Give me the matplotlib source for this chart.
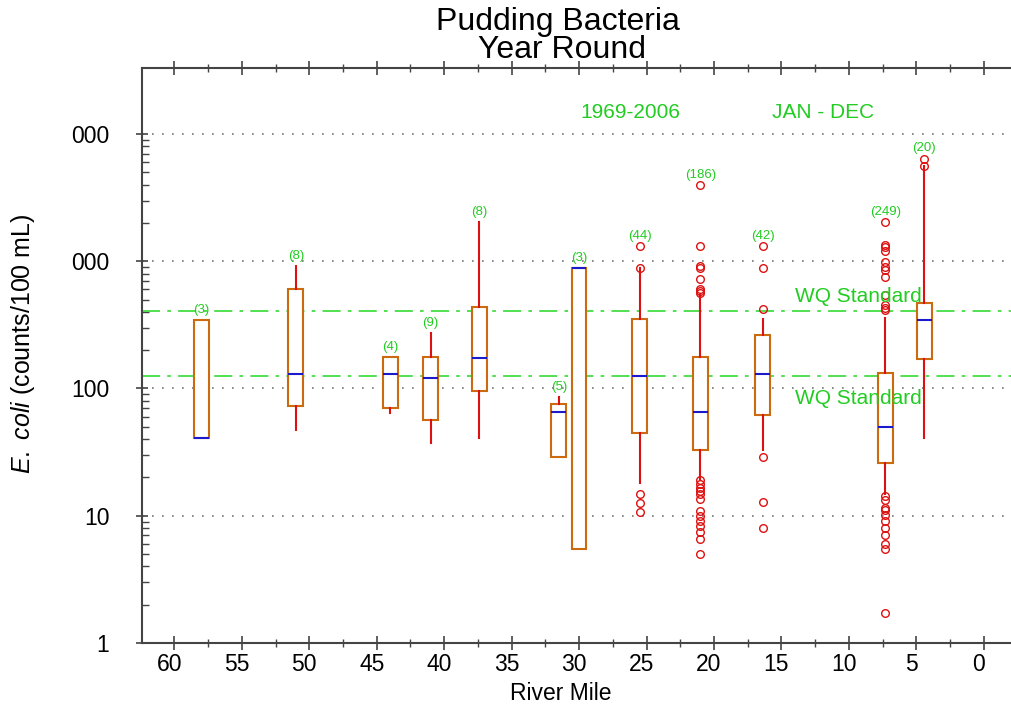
import matplotlib
matplotlib.use("Agg")
import matplotlib.pyplot as plt
import matplotlib.transforms as mtransforms
from matplotlib.ticker import FixedLocator, MultipleLocator, NullFormatter

plt.rcParams['font.family'] = ['Liberation Sans', 'DejaVu Sans']
plt.rcParams['mathtext.fontset'] = 'custom'
plt.rcParams['mathtext.it'] = 'Liberation Sans:italic'
plt.rcParams['mathtext.rm'] = 'Liberation Sans'

# river mile of each site, and sample counts
miles = [58.0, 51.0, 44.0, 41.0, 37.4, 31.5, 30.0, 25.5, 21.0, 16.4, 7.3, 4.4]
counts = [3, 8, 4, 9, 8, 5, 3, 44, 186, 42, 249, 20]

# box statistics (E. coli counts/100 mL)
q1 = [41, 73, 70, 57, 96, 29, 5.5, 45, 33, 62, 26, 170]
med = [41, 129, 131, 121, 173, 65, 890, 126, 65, 130, 50, 346]
q3 = [345, 607, 177, 177, 435, 75, 890, 352, 177, 264, 133, 468]
whislo = [41, 47, 64, 37, 41, 29, 5.5, 18, 19.5, 32.6, 14.7, 41]
whishi = [345, 922, 177, 272, 2020, 85, 890, 886, 543, 352, 357, 5600]
fliers = [
    [], [], [], [], [], [], [],
    [1318, 886, 14.9, 12.7, 10.7],
    [3970, 1318, 910, 886, 726, 609, 585, 561,
     19.0, 17.8, 16.5, 15.7, 14.7, 13.5, 10.9, 9.9, 9.1, 8.3, 7.5, 6.6, 5.0],
    [1318, 886, 420, 28.7, 12.8, 8.07],
    [2031, 1343, 1290, 1212, 994, 907, 855, 757, 543, 454, 428, 415,
     14.2, 13.4, 11.5, 11.0, 10.2, 9.05, 8.02, 7.02, 6.04, 5.49, 1.71],
    [6400, 5600],
]

wq_standards = [406, 126]
ytick_vals = [1, 10, 100, 1000, 10000]
ytick_labels = ['1', '10', '100', '000', '000']
green = '#22cc22'

fig = plt.figure(figsize=(10.11, 7.09), dpi=100)
W, H = 1011, 709
ax = fig.add_axes([142 / W, (H - 643) / H, (W - 142) / W, (643 - 68) / H])

stats = []
for i in range(len(miles)):
    stats.append(dict(med=med[i], q1=q1[i], q3=q3[i], whislo=whislo[i],
                      whishi=whishi[i], fliers=fliers[i]))

ax.bxp(stats, positions=miles, widths=1.1, showcaps=False, patch_artist=True,
       boxprops=dict(facecolor='white', edgecolor='#cc6a10', linewidth=1.5),
       whiskerprops=dict(color='#dd1111', linewidth=1.5),
       medianprops=dict(color='#1a1acc', linewidth=1.5),
       flierprops=dict(marker='o', markerfacecolor='none', markeredgecolor='#dd1111',
                       markersize=5.5, markeredgewidth=1.0),
       zorder=3, manage_ticks=False)

# sample counts above each site
for i in range(len(miles)):
    top = max([whishi[i], q3[i]] + fliers[i])
    ax.annotate('(%d)' % counts[i], (miles[i], top), xytext=(0, 3),
                textcoords='offset points', ha='center', va='bottom',
                color=green, fontsize=9.5, zorder=5)

# water quality standards
for v in wq_standards:
    ax.axhline(v, color='#44dd44', linewidth=1.3, linestyle=(0, (10, 4, 2, 4)), zorder=2)
ax.text(14.0, wq_standards[0] * 1.09, 'WQ Standard', color=green, fontsize=15,
        ha='left', va='bottom', zorder=5)
ax.text(14.0, wq_standards[1] * 0.78, 'WQ Standard', color=green, fontsize=15,
        ha='left', va='top', zorder=5)

ax.text(0.5616, 0.923, '1969-2006', transform=ax.transAxes, color=green, fontsize=15,
        ha='center', va='center')
ax.text(0.7837, 0.923, 'JAN - DEC', transform=ax.transAxes, color=green, fontsize=15,
        ha='center', va='center')

ax.set_yscale('log')
ax.set_ylim(1, 33000)
ax.set_xlim(62.4, -2.02)

for v in ytick_vals[1:]:
    ax.axhline(v, color='#777777', linewidth=1.2, linestyle=(0, (1, 5)), zorder=1)

ax.yaxis.set_major_locator(FixedLocator(ytick_vals))
ax.set_yticklabels(ytick_labels)
minors = [m * 10 ** d for d in range(4) for m in range(2, 10)]
ax.yaxis.set_minor_locator(FixedLocator(minors))
ax.yaxis.set_minor_formatter(NullFormatter())

ax.xaxis.set_major_locator(MultipleLocator(5))
ax.xaxis.set_minor_locator(MultipleLocator(2.5))
ax.set_xticks(range(0, 61, 5))
ax.set_xticklabels([str(x) for x in range(0, 61, 5)])

ax.tick_params(axis='y', which='major', direction='inout', length=9, width=1.2,
               labelsize=16.5, pad=19, color='#444444')
ax.tick_params(axis='y', which='minor', direction='in', length=5, width=1.0,
               color='#444444')
ax.tick_params(axis='x', which='major', direction='inout', length=10, width=1.2,
               labelsize=16.5, pad=2, color='#444444', top=True)
ax.tick_params(axis='x', which='minor', direction='inout', length=6, width=1.0,
               color='#444444', top=True)

# labels in the original sit a little left of their ticks
shift = mtransforms.ScaledTranslation(-5 / 100, 0, fig.dpi_scale_trans)
for lbl in ax.get_xticklabels():
    lbl.set_transform(lbl.get_transform() + shift)

for s in ['left', 'bottom', 'top']:
    ax.spines[s].set_color('#444444')
    ax.spines[s].set_linewidth(1.5)
ax.spines['right'].set_visible(False)

ax.set_xlabel('River Mile', fontsize=16.5)
ax.xaxis.set_label_coords((561 - 142) / 869, -0.068)
ax.set_ylabel(r'$E.\ coli$ (counts/100 mL)', fontsize=18)
ax.yaxis.set_label_coords(-0.121, 0.52)

fig.text(558 / W, 1 - 22 / H, 'Pudding Bacteria', fontsize=23, ha='center', va='center')
fig.text(562 / W, 1 - 50 / H, 'Year Round', fontsize=23, ha='center', va='center')

fig.savefig('out.png', dpi=100)
